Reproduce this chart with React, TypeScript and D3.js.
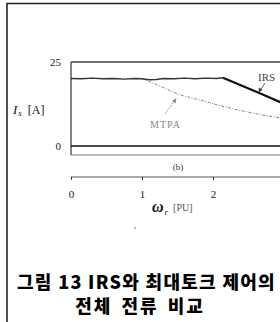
import React, { useEffect, useRef } from 'react';
import * as d3 from 'd3';

// IRS current: noisy flat part, then field weakening slope
const irsW = [0, 0.15, 0.3, 0.45, 0.6, 0.75, 0.9, 1.0, 1.1, 1.2, 1.3, 1.45, 1.6, 1.75, 1.9, 2.05, 2.14];
const irsI = [20.1, 20.0, 20.2, 20.0, 20.1, 19.9, 20.1, 20.0, 19.7, 19.8, 20.1, 20.0, 20.2, 20.0, 20.2, 20.1, 20.3];
const irsFwW = [2.14, 2.4, 2.7, 3.0];
const irsFwI = [20.3, 18.0, 15.3, 12.6];

// MTPA current
const mtpaW = [1.0, 1.1, 1.25, 1.4, 1.54, 1.7, 1.82, 2.1, 2.38, 2.65, 2.94, 3.0];
const mtpaI = [20.1, 19.2, 17.9, 16.4, 15.2, 14.3, 13.7, 12.0, 10.6, 9.4, 8.4, 8.2];

const xTicks = [0, 1, 2];
const yTicks = [0, 25];

const serif = '"Liberation Serif", "DejaVu Serif", serif';
const cap = '"Noto Sans CJK KR", sans-serif';

export default function App() {
  const svgRef = useRef<SVGSVGElement>(null);

  useEffect(() => {
    if (!svgRef.current) return;
    const svg = d3.select(svgRef.current);
    svg.selectAll('*').remove();

    const x = d3.scaleLinear().domain([0, 4]).range([71, 355]);
    const y = d3.scaleLinear().domain([0, 25]).range([146, 62]);

    // outer frame
    svg.append('path')
      .attr('d', 'M7,322 L7,3.5 L280,3.5')
      .attr('fill', 'none').attr('stroke', '#222').attr('stroke-width', 1.6);

    // plot box
    svg.append('line').attr('x1', 71).attr('x2', 71).attr('y1', y(25)).attr('y2', 155)
      .attr('stroke', '#333').attr('stroke-width', 1.2);
    svg.append('line').attr('x1', 71).attr('x2', 280).attr('y1', y(25)).attr('y2', y(25))
      .attr('stroke', '#444').attr('stroke-width', 1.5);
    svg.append('line').attr('x1', 71).attr('x2', 280).attr('y1', y(0)).attr('y2', y(0))
      .attr('stroke', '#111').attr('stroke-width', 1.6);
    svg.append('line').attr('x1', 71).attr('x2', 280).attr('y1', 155).attr('y2', 155)
      .attr('stroke', '#777').attr('stroke-width', 1);

    // y axis labels
    const yAxis = svg.append('g')
      .attr('transform', 'translate(71,0)')
      .call(d3.axisLeft(y).tickValues(yTicks).tickSize(0).tickPadding(10).tickFormat(d3.format('d')));
    yAxis.select('.domain').remove();
    yAxis.selectAll('text').style('font-family', serif).style('font-size', '11px').style('fill', '#222');

    const mk = (ws: number[], is: number[]) =>
      d3.line<number>().x((_, i) => x(ws[i])).y((_, i) => y(is[i]))(ws) as string;

    // MTPA dotted curve
    svg.append('path').attr('d', mk(mtpaW, mtpaI))
      .attr('fill', 'none').attr('stroke', '#777').attr('stroke-width', 0.9)
      .attr('stroke-dasharray', '3 1.5 1 1.5');

    // IRS curve
    svg.append('path').attr('d', mk(irsW, irsI))
      .attr('fill', 'none').attr('stroke', '#333').attr('stroke-width', 1.4);
    svg.append('path').attr('d', mk(irsFwW, irsFwI))
      .attr('fill', 'none').attr('stroke', '#111').attr('stroke-width', 2.2);

    // annotations
    svg.append('text').attr('x', 258).attr('y', 81).text('IRS')
      .style('font-family', serif).style('font-size', '11px').style('fill', '#444');
    svg.append('line').attr('x1', 265).attr('y1', 83).attr('x2', 260).attr('y2', 91)
      .attr('stroke', '#444').attr('stroke-width', 0.8);
    svg.append('path').attr('d', 'M258.5,93 L258.8,87.5 L262.5,89.8 Z').attr('fill', '#444');

    svg.append('text').attr('x', 150).attr('y', 128).text('MTPA')
      .style('font-family', serif).style('font-size', '10px').style('fill', '#888')
      .style('letter-spacing', '1px');
    svg.append('line').attr('x1', 165).attr('y1', 114).attr('x2', 175).attr('y2', 100)
      .attr('stroke', '#888').attr('stroke-width', 0.8).attr('stroke-dasharray', '2 1');
    svg.append('path').attr('d', 'M176.5,98 L175.5,103.5 L172,101 Z').attr('fill', '#888');

    svg.append('text').attr('x', 178).attr('y', 170).attr('text-anchor', 'middle').text('(b)')
      .style('font-family', serif).style('font-size', '9px').style('fill', '#333');

    // x axis
    const xAxis = svg.append('g')
      .attr('transform', 'translate(0,177)')
      .call(d3.axisBottom(x).tickValues(xTicks).tickSize(3).tickPadding(10).tickFormat(d3.format('d')));
    xAxis.select('.domain').attr('stroke', '#555').attr('stroke-width', 1).attr('d', 'M71,0H355');
    xAxis.selectAll('.tick line').attr('stroke', '#333');
    xAxis.selectAll('text').style('font-family', serif).style('font-size', '11px').style('fill', '#222');

    // x axis title
    const xt = svg.append('text').attr('x', 152).attr('y', 212)
      .style('font-family', serif).style('fill', '#111');
    xt.append('tspan').text('ω').style('font-size', '16px').style('font-style', 'italic').style('font-weight', 'bold');
    xt.append('tspan').text('r').attr('dy', 3).attr('dx', 1).style('font-size', '9px').style('font-style', 'italic');
    xt.append('tspan').text('[PU]').attr('dy', -4).attr('dx', 5).style('font-size', '10px').style('fill', '#555');

    // y axis title
    const yt = svg.append('text').attr('x', 13).attr('y', 114)
      .style('font-family', serif).style('fill', '#111');
    yt.append('tspan').text('I').style('font-size', '13px').style('font-style', 'italic');
    yt.append('tspan').text('s').attr('dy', 2).attr('dx', 1).style('font-size', '9px').style('font-style', 'italic');
    yt.append('tspan').text('[A]').attr('dy', -2).attr('dx', 6).style('font-size', '12px');

    svg.append('circle').attr('cx', 135).attr('cy', 228).attr('r', 0.8).attr('fill', '#555');

    // caption
    svg.append('text').attr('x', 17).attr('y', 289).text('그림 13 IRS와 최대토크 제어의')
      .style('font-family', cap).style('font-size', '18px').style('font-weight', 900)
      .style('fill', '#000').style('letter-spacing', '1.3px');
    svg.append('text').attr('x', 140).attr('y', 313).attr('text-anchor', 'middle').text('전체 전류 비교')
      .style('font-family', cap).style('font-size', '18px').style('font-weight', 900)
      .style('fill', '#000').style('letter-spacing', '2px').style('word-spacing', '3px');
  }, []);

  return (
    <svg ref={svgRef} width={280} height={322}
      style={{ position: 'fixed', left: 0, top: 0, background: '#fff', display: 'block' }} />
  );
}
